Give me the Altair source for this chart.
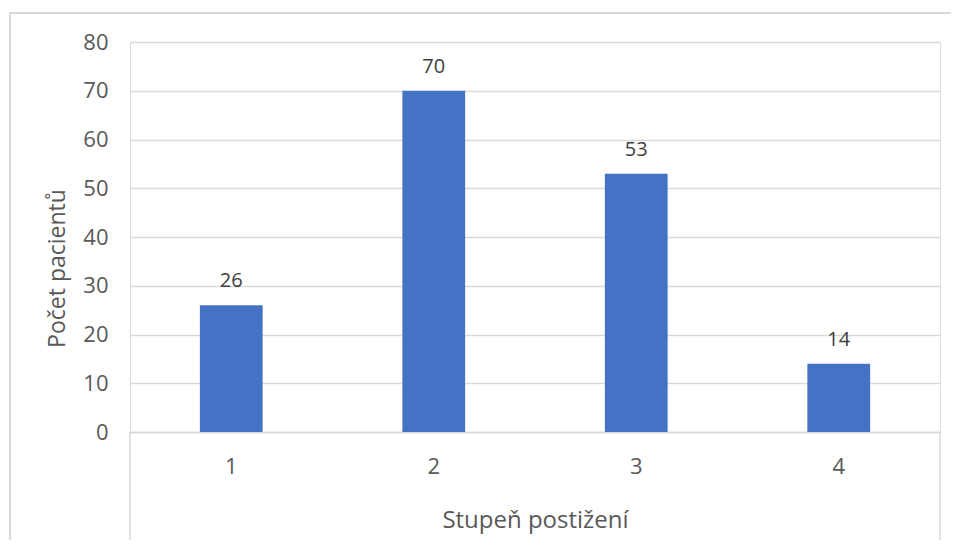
import altair as alt
import pandas as pd

categories = ["1", "2", "3", "4"]
values = [26, 70, 53, 14]

df = pd.DataFrame({"stupen": categories, "pocet": values})

W, H = 810, 390
FONT = "Open Sans"
TXT = "#595959"
GRID = "#D9D9D9"

x_enc = alt.X(
    "stupen:N",
    sort=categories,
    scale=alt.Scale(paddingInner=0.69, paddingOuter=0.345),
    axis=alt.Axis(
        title="Stupeň postižení",
        labelAngle=0,
        labelFontSize=22,
        labelColor=TXT,
        labelFont=FONT,
        labelPadding=24,
        ticks=False,
        domainColor=GRID,
        domainWidth=1.5,
        titleFontSize=24,
        titleFont=FONT,
        titleColor=TXT,
        titleFontWeight="normal",
        titlePadding=31,
    ),
)

y_enc = alt.Y(
    "pocet:Q",
    scale=alt.Scale(domain=[0, 80]),
    axis=alt.Axis(
        title="Počet pacientů",
        values=[0, 10, 20, 30, 40, 50, 60, 70, 80],
        labelFontSize=22,
        labelColor=TXT,
        labelFont=FONT,
        labelPadding=22,
        ticks=False,
        domain=False,
        gridColor=GRID,
        gridWidth=1.5,
        titleFontSize=23,
        titleFont=FONT,
        titleColor=TXT,
        titleFontWeight="normal",
        titleX=-73,
        titleY=226,
        titleAngle=-90,
        titleAlign="center",
        titleBaseline="middle",
    ),
)

bars = alt.Chart(df).mark_bar(color="#4472C4").encode(x=x_enc, y=y_enc)

labels = alt.Chart(df).mark_text(
    baseline="bottom", dy=-14, fontSize=20, font=FONT, color="#404040"
).encode(x=alt.X("stupen:N", sort=categories), y="pocet:Q", text="pocet:Q")

side_lines = alt.Chart(pd.DataFrame({"p": [0, W]})).mark_rule(
    color=GRID, strokeWidth=1.5, clip=False
).encode(x=alt.X("p:Q", scale=None), y=alt.value(H), y2=alt.value(H + 108))

border = alt.Chart(pd.DataFrame({"a": [0]})).mark_rect(
    filled=False, stroke=GRID, strokeWidth=2, clip=False
).encode(
    x=alt.value(-120), x2=alt.value(W + 200), y=alt.value(-29), y2=alt.value(H + 200)
)

chart = (
    alt.layer(border, bars, labels, side_lines)
    .properties(
        width=W,
        height=H,
        autosize=alt.AutoSizeParams(type="none"),
        padding={"left": 122, "top": 34, "right": 11, "bottom": 108},
    )
    .configure_view(stroke=None)
    .configure(background="white")
)

chart.save("out.html", embed_options={"renderer": "svg", "actions": False})
